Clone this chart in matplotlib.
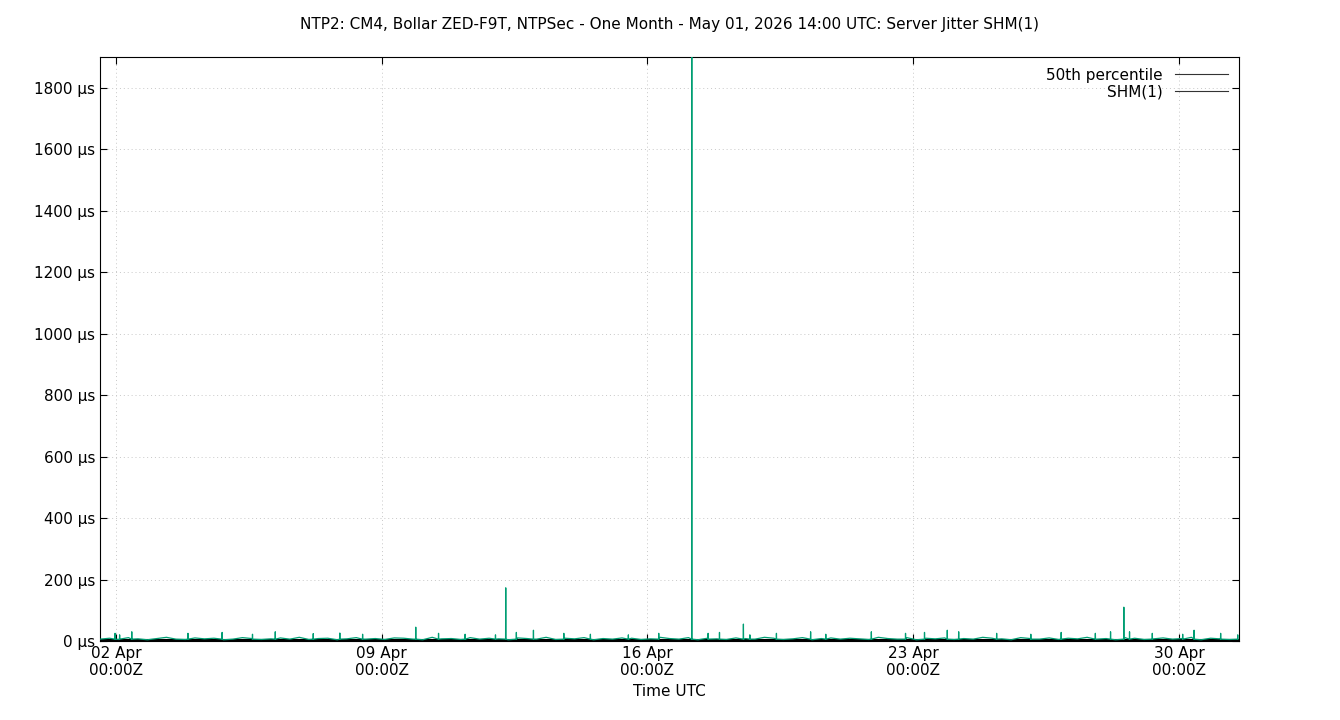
import numpy as np
import matplotlib.pyplot as plt

# time in days since 02 Apr 00:00Z
start_day = -10 / 24.0      # 01 Apr 14:00Z
end_day = 29 + 14 / 24.0    # 01 May 14:00Z

# baseline jitter (µs), one sample every 6 hours
base_jitter = [
    6, 9, 5, 11, 7, 4, 8, 12, 6, 5, 10, 7, 9, 4, 6, 11, 8, 5, 7, 10,
    6, 12, 5, 8, 9, 4, 7, 11, 6, 8, 5, 10, 9, 6, 4, 12, 7, 8, 5, 11,
    6, 9, 7, 4, 10, 8, 6, 12, 5, 9, 7, 11, 4, 8, 6, 10, 9, 5, 7, 12,
    8, 6, 11, 4, 9, 7, 5, 10, 8, 6, 12, 9, 5, 7, 11, 4, 8, 10, 6, 9,
    7, 5, 12, 8, 6, 11, 4, 9, 7, 10, 5, 8, 6, 12, 9, 7, 4, 11, 8, 6,
    10, 5, 9, 7, 12, 6, 8, 4, 11, 9, 5, 7, 10, 6, 8, 12, 4, 9, 7, 5,
]

# spikes: day offset, height µs
spike_days = [-0.02, 0.1, 0.42, 1.9, 2.8, 3.6, 4.2, 5.2, 5.9, 6.5, 7.9, 8.5,
              9.2, 10.0, 10.27, 10.55, 11.0, 11.8, 12.5, 13.5, 14.3, 15.17,
              15.6, 15.9, 16.53, 16.7, 17.4, 18.3, 18.7, 19.9, 20.8, 21.3,
              21.9, 22.2, 23.2, 24.1, 24.9, 25.8, 26.2, 26.55, 26.7, 27.3,
              28.1, 28.4, 29.1, 29.55]
spike_vals = [25, 20, 30, 25, 28, 22, 30, 24, 26, 22, 45, 25,
              22, 20, 173, 28, 35, 25, 22, 20, 25, 1900,
              25, 28, 55, 20, 25, 30, 22, 30, 25, 28,
              35, 30, 25, 22, 28, 25, 30, 110, 30, 25,
              22, 35, 25, 20]
median_us = 2.0

base_t = start_day + 0.25 * np.arange(len(base_jitter))
sd = np.array(spike_days)
t = np.concatenate([base_t, sd - 0.004, sd, sd + 0.004])
v = np.concatenate([base_jitter, np.full(len(sd), 6), spike_vals, np.full(len(sd), 6)])
order = np.argsort(t)
t, v = t[order], v[order]

fig = plt.figure(figsize=(13.4, 7.2), dpi=100)
ax = fig.add_axes([100 / 1340, 1 - 641 / 720, 1139 / 1340, 584 / 720])

ax.plot(t, v, color='#009e73', lw=0.9, label='SHM(1)', zorder=3)
ax.plot([start_day, end_day], [median_us, median_us], color='black', lw=1.5,
        label='50th percentile', zorder=2)

ax.set_xlim(start_day, end_day)
ax.set_ylim(0, 1900)
ax.set_yticks(np.arange(0, 1801, 200))
ax.set_yticklabels([f'{y} µs' for y in range(0, 1801, 200)], fontsize=11)
ax.set_xticks([0, 7, 14, 21, 28])
ax.set_xticklabels([f'{d} Apr\n00:00Z' for d in ['02', '09', '16', '23', '30']],
                   fontsize=11)
ax.tick_params(direction='in', top=True, right=True, length=5)
ax.grid(True, linestyle=(0, (1, 3)), color='#c8c8c8', lw=0.7)
ax.set_xlabel('Time UTC', fontsize=11)
ax.set_title('NTP2: CM4, Bollar ZED-F9T, NTPSec - One Month - May 01, 2026 14:00 UTC: Server Jitter SHM(1)',
             fontsize=11, pad=20)

h, l = ax.get_legend_handles_labels()
leg = ax.legend(h[::-1], l[::-1], loc='upper right', frameon=False, fontsize=11,
                markerfirst=False, handlelength=3.5, borderaxespad=0.3,
                labelspacing=0.1)
for line in leg.get_lines():
    line.set_linewidth(0.8)
    line.set_color('#333333')

fig.savefig('out.png', dpi=100)
